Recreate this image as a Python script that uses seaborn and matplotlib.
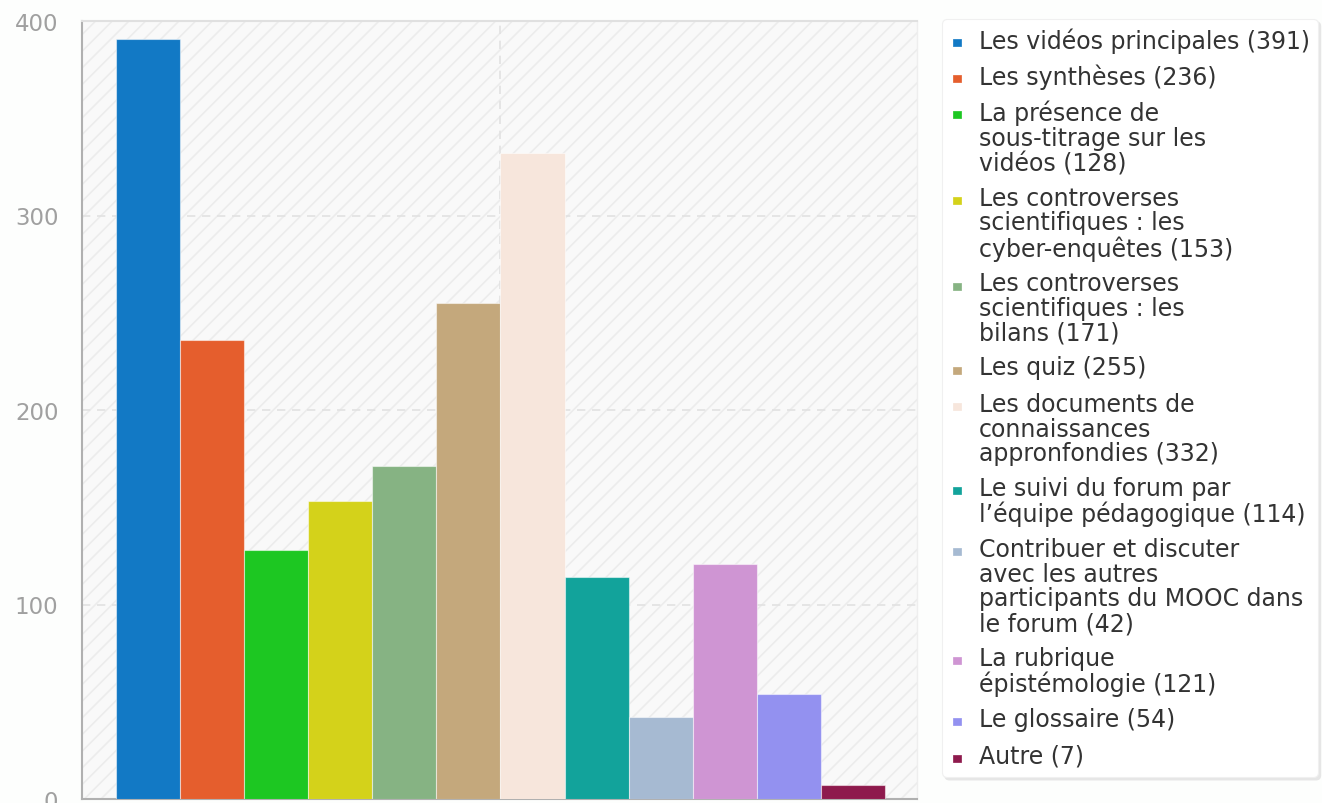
import matplotlib
matplotlib.use("Agg")
import matplotlib.pyplot as plt
import seaborn as sns
import pandas as pd
from matplotlib.lines import Line2D
from matplotlib.patches import Rectangle
from matplotlib.path import Path

names = [
    "Les vidéos principales",
    "Les synthèses",
    "La présence de\nsous-titrage sur les\nvidéos",
    "Les controverses\nscientifiques : les\ncyber-enquêtes",
    "Les controverses\nscientifiques : les\nbilans",
    "Les quiz",
    "Les documents de\nconnaissances\nappronfondies",
    "Le suivi du forum par\nl’équipe pédagogique",
    "Contribuer et discuter\navec les autres\nparticipants du MOOC dans\nle forum",
    "La rubrique\népistémologie",
    "Le glossaire",
    "Autre",
]
values = [391, 236, 128, 153, 171, 255, 332, 114, 42, 121, 54, 7]
colors = ["#1279C5", "#E55E2D", "#1DC722", "#D4D21A", "#86B383", "#C4A87C",
          "#F7E6DC", "#12A39B", "#A6BAD2", "#CF95D3", "#9391F0", "#8E1A4D"]
yticks = [0, 100, 200, 300, 400]

labels = [f"{n} ({v})" for n, v in zip(names, values)]
df = pd.DataFrame({"cat": labels, "value": values})

sns.set_theme(style="white")
plt.rcParams['font.family'] = ['DejaVu Sans']
plt.rcParams['hatch.color'] = "#ececec"
plt.rcParams['hatch.linewidth'] = 1.2

fig = plt.figure(figsize=(13.22, 8.04), dpi=100)
fig.patch.set_facecolor("#fdfefd")
ax = fig.add_axes([82/1322, 1 - 800/804, (917-82)/1322, (800-22)/804])
ax.set_facecolor("#f9f9f9")

# hatched background
bg = Rectangle((0, 0), 1, 1, transform=ax.transAxes, facecolor="#f9f9f9",
               edgecolor="#ececec", hatch="//", linewidth=0, zorder=0)
ax.add_patch(bg)

sns.barplot(data=df, x="cat", y="value", hue="cat", palette=colors,
            legend=False, width=1.0, ax=ax, edgecolor=(1, 1, 1, 0.5),
            linewidth=0.8, zorder=3, saturation=1)

ax.set_xlim(-1.03, 12.0)
ax.set_ylim(0, 400)
ax.set_yticks(yticks)
ax.set_yticklabels([str(t) for t in yticks], fontsize=16.5, color="#a0a0a0")
ax.set_xticks([5.5])
ax.set_xticklabels([""])
ax.tick_params(axis="x", length=0)
ax.tick_params(axis="y", length=8, width=1.2, color="#aaaaaa", direction="out", pad=9)
ax.set_xlabel("")
ax.set_ylabel("")

ax.grid(True, axis="both", color="#e2e2e2", linestyle=(0, (5, 4)), linewidth=1.2, zorder=1)
ax.set_axisbelow(True)

for s in ["left", "bottom"]:
    ax.spines[s].set_color("#b0b0b0")
    ax.spines[s].set_linewidth(1.5)
ax.spines["top"].set_color("#e0e0e0")
ax.spines["top"].set_linewidth(1.5)
ax.spines["right"].set_color("#eeeeee")
ax.spines["right"].set_linewidth(1)

# square legend marker, shifted slightly downward so it sits on the first text line
k = 1.15
sq = Path([(-1, -1 - k), (1, -1 - k), (1, 1 - k), (-1, 1 - k), (-1, -1 - k)],
          [Path.MOVETO, Path.LINETO, Path.LINETO, Path.LINETO, Path.CLOSEPOLY])
handles = [Line2D([0], [0], marker=sq, linestyle="none", markersize=5.3 * (1 + k),
                  markerfacecolor=c, markeredgecolor=c, markeredgewidth=0.5)
           for c in colors]
leg = fig.legend(handles, labels, loc="upper left",
                 bbox_to_anchor=(942/1322, 1 - 20/804),
                 bbox_transform=fig.transFigure,
                 fontsize=17, frameon=True, fancybox=True,
                 shadow={"color": "#e6e6e6", "alpha": 1},
                 handlelength=0.6, handleheight=1.3, handletextpad=0.6,
                 labelspacing=0.45, borderpad=0.35, borderaxespad=0)
leg.get_frame().set_facecolor("white")
leg.get_frame().set_edgecolor("#f0f0f0")
leg.get_frame().set_linewidth(0.8)
for t in leg.get_texts():
    t.set_color("#333333")
    t.set_linespacing(1.04)
for col in leg._legend_handle_box.get_children():
    for row in col.get_children():
        row.align = "top"

fig.savefig("out.png", dpi=100, facecolor=fig.get_facecolor())
